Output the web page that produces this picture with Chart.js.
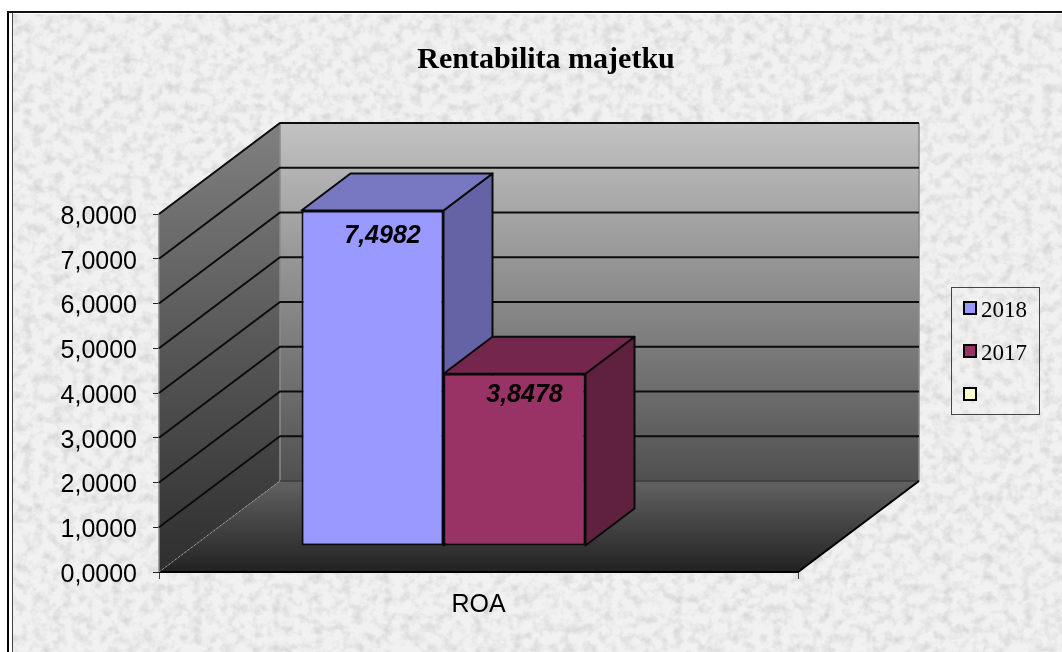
<!DOCTYPE html>
<html>
<head>
<meta charset="utf-8">
<style>
html,body{margin:0;padding:0;background:#fff;overflow:hidden}
#papir{position:absolute;left:13px;top:14px;width:1049px;height:638px}
#ramL{position:absolute;left:7px;top:11px;width:2px;height:641px;background:#000}
#ramL2{position:absolute;left:12px;top:12px;width:1px;height:640px;background:#444}
#ramT{position:absolute;left:7px;top:11px;width:1055px;height:2px;background:#111}
#graf{position:absolute;left:0;top:0}
</style>
</head>
<body>
<svg id="papir" xmlns="http://www.w3.org/2000/svg">
<filter id="mramor" x="0" y="0" width="100%" height="100%">
<feTurbulence type="fractalNoise" baseFrequency="0.1" numOctaves="4" seed="11"/>
<feColorMatrix type="matrix" values="0 0 0 0 0.68  0 0 0 0 0.68  0 0 0 0 0.68  2.2 0 0 0 -0.92"/>
</filter>
<rect width="100%" height="100%" fill="#f1f1f1"/>
<rect width="100%" height="100%" filter="url(#mramor)"/>
</svg>
<div id="ramL"></div><div id="ramL2"></div><div id="ramT"></div>
<canvas id="graf" width="1062" height="652"></canvas>

<script src="https://cdn.jsdelivr.net/npm/chart.js@4/dist/chart.umd.min.js"></script>
<script>
let nadpis="Rentabilita majetku"
let kategorie=["ROA"]
let roky=["2018","2017",""]
let hodnoty2018=[7.4982]
let hodnoty2017=[3.8478]
let hodnotyPrazdne=[null]
let popisky2018=["7,4982"]
let popisky2017=["3,8478"]

let barvy=["#9999ff","#993366","#ffffcc"]
let barvyBok=["#6363a6","#60213f","#a6a685"]
let barvyVrch=["#7777c2","#74264d","#c2c29f"]

// hloubka 3D grafu v pixelech
let hloubkaX=121
let hloubkaY=91
let sloupecPosunX=36
let sloupecPosunY=26
let sloupecHloubkaX=49
let sloupecHloubkaY=37
let popiskyPosun=[26,21]

function plocha(ctx,body,vypln,cara,sirka){
ctx.beginPath()
ctx.moveTo(body[0][0],body[0][1])
for(let i=1;i<body.length;i++)ctx.lineTo(body[i][0],body[i][1])
ctx.closePath()
if(vypln){ctx.fillStyle=vypln;ctx.fill()}
if(cara){ctx.strokeStyle=cara;ctx.lineWidth=sirka||1.5;ctx.lineJoin="round";ctx.stroke()}
}

function prechod(ctx,y1,y2,c1,c2){
let g=ctx.createLinearGradient(0,y1,0,y2)
g.addColorStop(0,c1)
g.addColorStop(1,c2)
return g
}

let steny3d={
id:"steny3d",
beforeDatasetsDraw(chart){
let ctx=chart.ctx
let a=chart.chartArea
let skala=chart.scales.y
let vrch=a.top-hloubkaY
let dno=a.bottom-hloubkaY

ctx.save()
// zadni stena
plocha(ctx,[[a.left+hloubkaX,vrch],[a.right+hloubkaX,vrch],[a.right+hloubkaX,dno],[a.left+hloubkaX,dno]],prechod(ctx,vrch,dno,"#c2c2c2","#505050"))
// leva stena
plocha(ctx,[[a.left,a.top],[a.left+hloubkaX,vrch],[a.left+hloubkaX,dno],[a.left,a.bottom]],prechod(ctx,vrch,a.bottom,"#808080","#2e2e2e"))
// podlaha
plocha(ctx,[[a.left,a.bottom],[a.left+hloubkaX,dno],[a.right+hloubkaX,dno],[a.right,a.bottom]],prechod(ctx,dno,a.bottom,"#626262","#222222"))

// hrany
ctx.strokeStyle="#8a8a8a"
ctx.lineWidth=1.5
ctx.beginPath()
ctx.moveTo(a.left+hloubkaX,vrch)
ctx.lineTo(a.left+hloubkaX,dno)
ctx.moveTo(a.right+hloubkaX,vrch)
ctx.lineTo(a.right+hloubkaX,dno)
ctx.moveTo(a.left,a.top)
ctx.lineTo(a.left,a.bottom)
ctx.stroke()

// mrizka na stenach
skala.ticks.forEach(t=>{
let y=skala.getPixelForValue(t.value)
if(t.value==0)return
ctx.beginPath()
ctx.moveTo(a.left,y)
ctx.lineTo(a.left+hloubkaX,y-hloubkaY)
ctx.lineTo(a.right+hloubkaX,y-hloubkaY)
ctx.strokeStyle="#0c0c0c"
ctx.lineWidth=2
ctx.stroke()
})

ctx.strokeStyle="#3c3c3c"
ctx.lineWidth=1.5
ctx.beginPath()
ctx.moveTo(a.left+hloubkaX,dno)
ctx.lineTo(a.right+hloubkaX,dno)
ctx.stroke()

ctx.strokeStyle="#000"
ctx.lineWidth=2
ctx.beginPath()
ctx.moveTo(a.left,a.bottom)
ctx.lineTo(a.right,a.bottom)
ctx.lineTo(a.right+hloubkaX,dno)
ctx.stroke()

ctx.setLineDash([2,2])
ctx.strokeStyle="#9a9a9a"
ctx.lineWidth=1
ctx.beginPath()
ctx.moveTo(a.left,a.bottom)
ctx.lineTo(a.left+hloubkaX,dno)
ctx.stroke()
ctx.setLineDash([])

// boky a vrchy sloupcu, zleva doprava
chart.data.datasets.forEach((ds,i)=>{
let bar=chart.getDatasetMeta(i).data[0]
if(!bar||ds.data[0]==null)return
let l=bar.x-bar.width/2+sloupecPosunX
let p=bar.x+bar.width/2+sloupecPosunX
let t=bar.y-sloupecPosunY
let b=bar.base-sloupecPosunY
plocha(ctx,[[p,t],[p+sloupecHloubkaX,t-sloupecHloubkaY],[p+sloupecHloubkaX,b-sloupecHloubkaY],[p,b]],barvyBok[i],"#0a0a0a",2)
plocha(ctx,[[l,t],[l+sloupecHloubkaX,t-sloupecHloubkaY],[p+sloupecHloubkaX,t-sloupecHloubkaY],[p,t]],barvyVrch[i],"#0a0a0a",2)
})
ctx.restore()
},
beforeDatasetDraw(chart){
chart.ctx.save()
chart.ctx.translate(sloupecPosunX,-sloupecPosunY)
},
afterDatasetDraw(chart){
chart.ctx.restore()
},
afterDraw(chart){
let ctx=chart.ctx
ctx.save()

// nadpis
ctx.fillStyle="#000"
ctx.textBaseline="alphabetic"
ctx.textAlign="center"
ctx.font="bold 30px 'Liberation Serif'"
ctx.fillText(nadpis,546,68)

// hodnoty u sloupcu
let popisky=[popisky2018,popisky2017]
popisky.forEach((p,i)=>{
let bar=chart.getDatasetMeta(i).data[0]
ctx.font="italic bold 25px 'Liberation Sans'"
ctx.textBaseline="middle"
ctx.fillText(p[0],bar.x+sloupecPosunX+10,bar.y-sloupecPosunY+popiskyPosun[i])
})

// legenda
ctx.strokeStyle="#444"
ctx.lineWidth=1
ctx.strokeRect(951.5,287.5,88,127)
ctx.textAlign="left"
ctx.textBaseline="alphabetic"
ctx.font="23px 'Liberation Serif'"
chart.data.datasets.forEach((ds,i)=>{
let y=302+i*43
ctx.fillStyle=barvy[i]
ctx.fillRect(964,y,12,12)
ctx.strokeStyle="#000"
ctx.lineWidth=2
ctx.strokeRect(964,y,12,12)
ctx.fillStyle="#000"
ctx.fillText(ds.label,981,y+15)
})
ctx.restore()
}
}

new Chart(document.getElementById("graf"),{
type:"bar",
data:{
labels:kategorie,
datasets:[
{label:roky[0],data:hodnoty2018,backgroundColor:barvy[0]},
{label:roky[1],data:hodnoty2017,backgroundColor:barvy[1]},
{label:roky[2],data:hodnotyPrazdne,backgroundColor:barvy[2]}
]
},
options:{
responsive:false,
animation:false,
clip:false,
layout:{padding:{left:59,right:264,top:214,bottom:10}},
categoryPercentage:426/639,
barPercentage:1,
borderColor:"#0a0a0a",
borderWidth:2,
borderSkipped:false,
plugins:{legend:{display:false},title:{display:false},tooltip:{enabled:false}},
scales:{
x:{
afterFit(s){s.height=70},
grid:{drawOnChartArea:false,drawTicks:true,tickLength:7,color:"#444"},
border:{display:false},
ticks:{color:"#000",padding:11,font:{family:"Liberation Sans",size:25}}
},
y:{
min:0,
max:8,
afterFit(s){s.width=100},
grid:{drawOnChartArea:false,drawTicks:true,tickLength:6,color:"#222"},
border:{display:false},
ticks:{stepSize:1,color:"#000",padding:16,labelOffset:3,font:{family:"Liberation Sans",size:25},callback:v=>v.toFixed(4).replace(".",",")}
}
}
},
plugins:[steny3d]
})
</script>
</body>
</html>
